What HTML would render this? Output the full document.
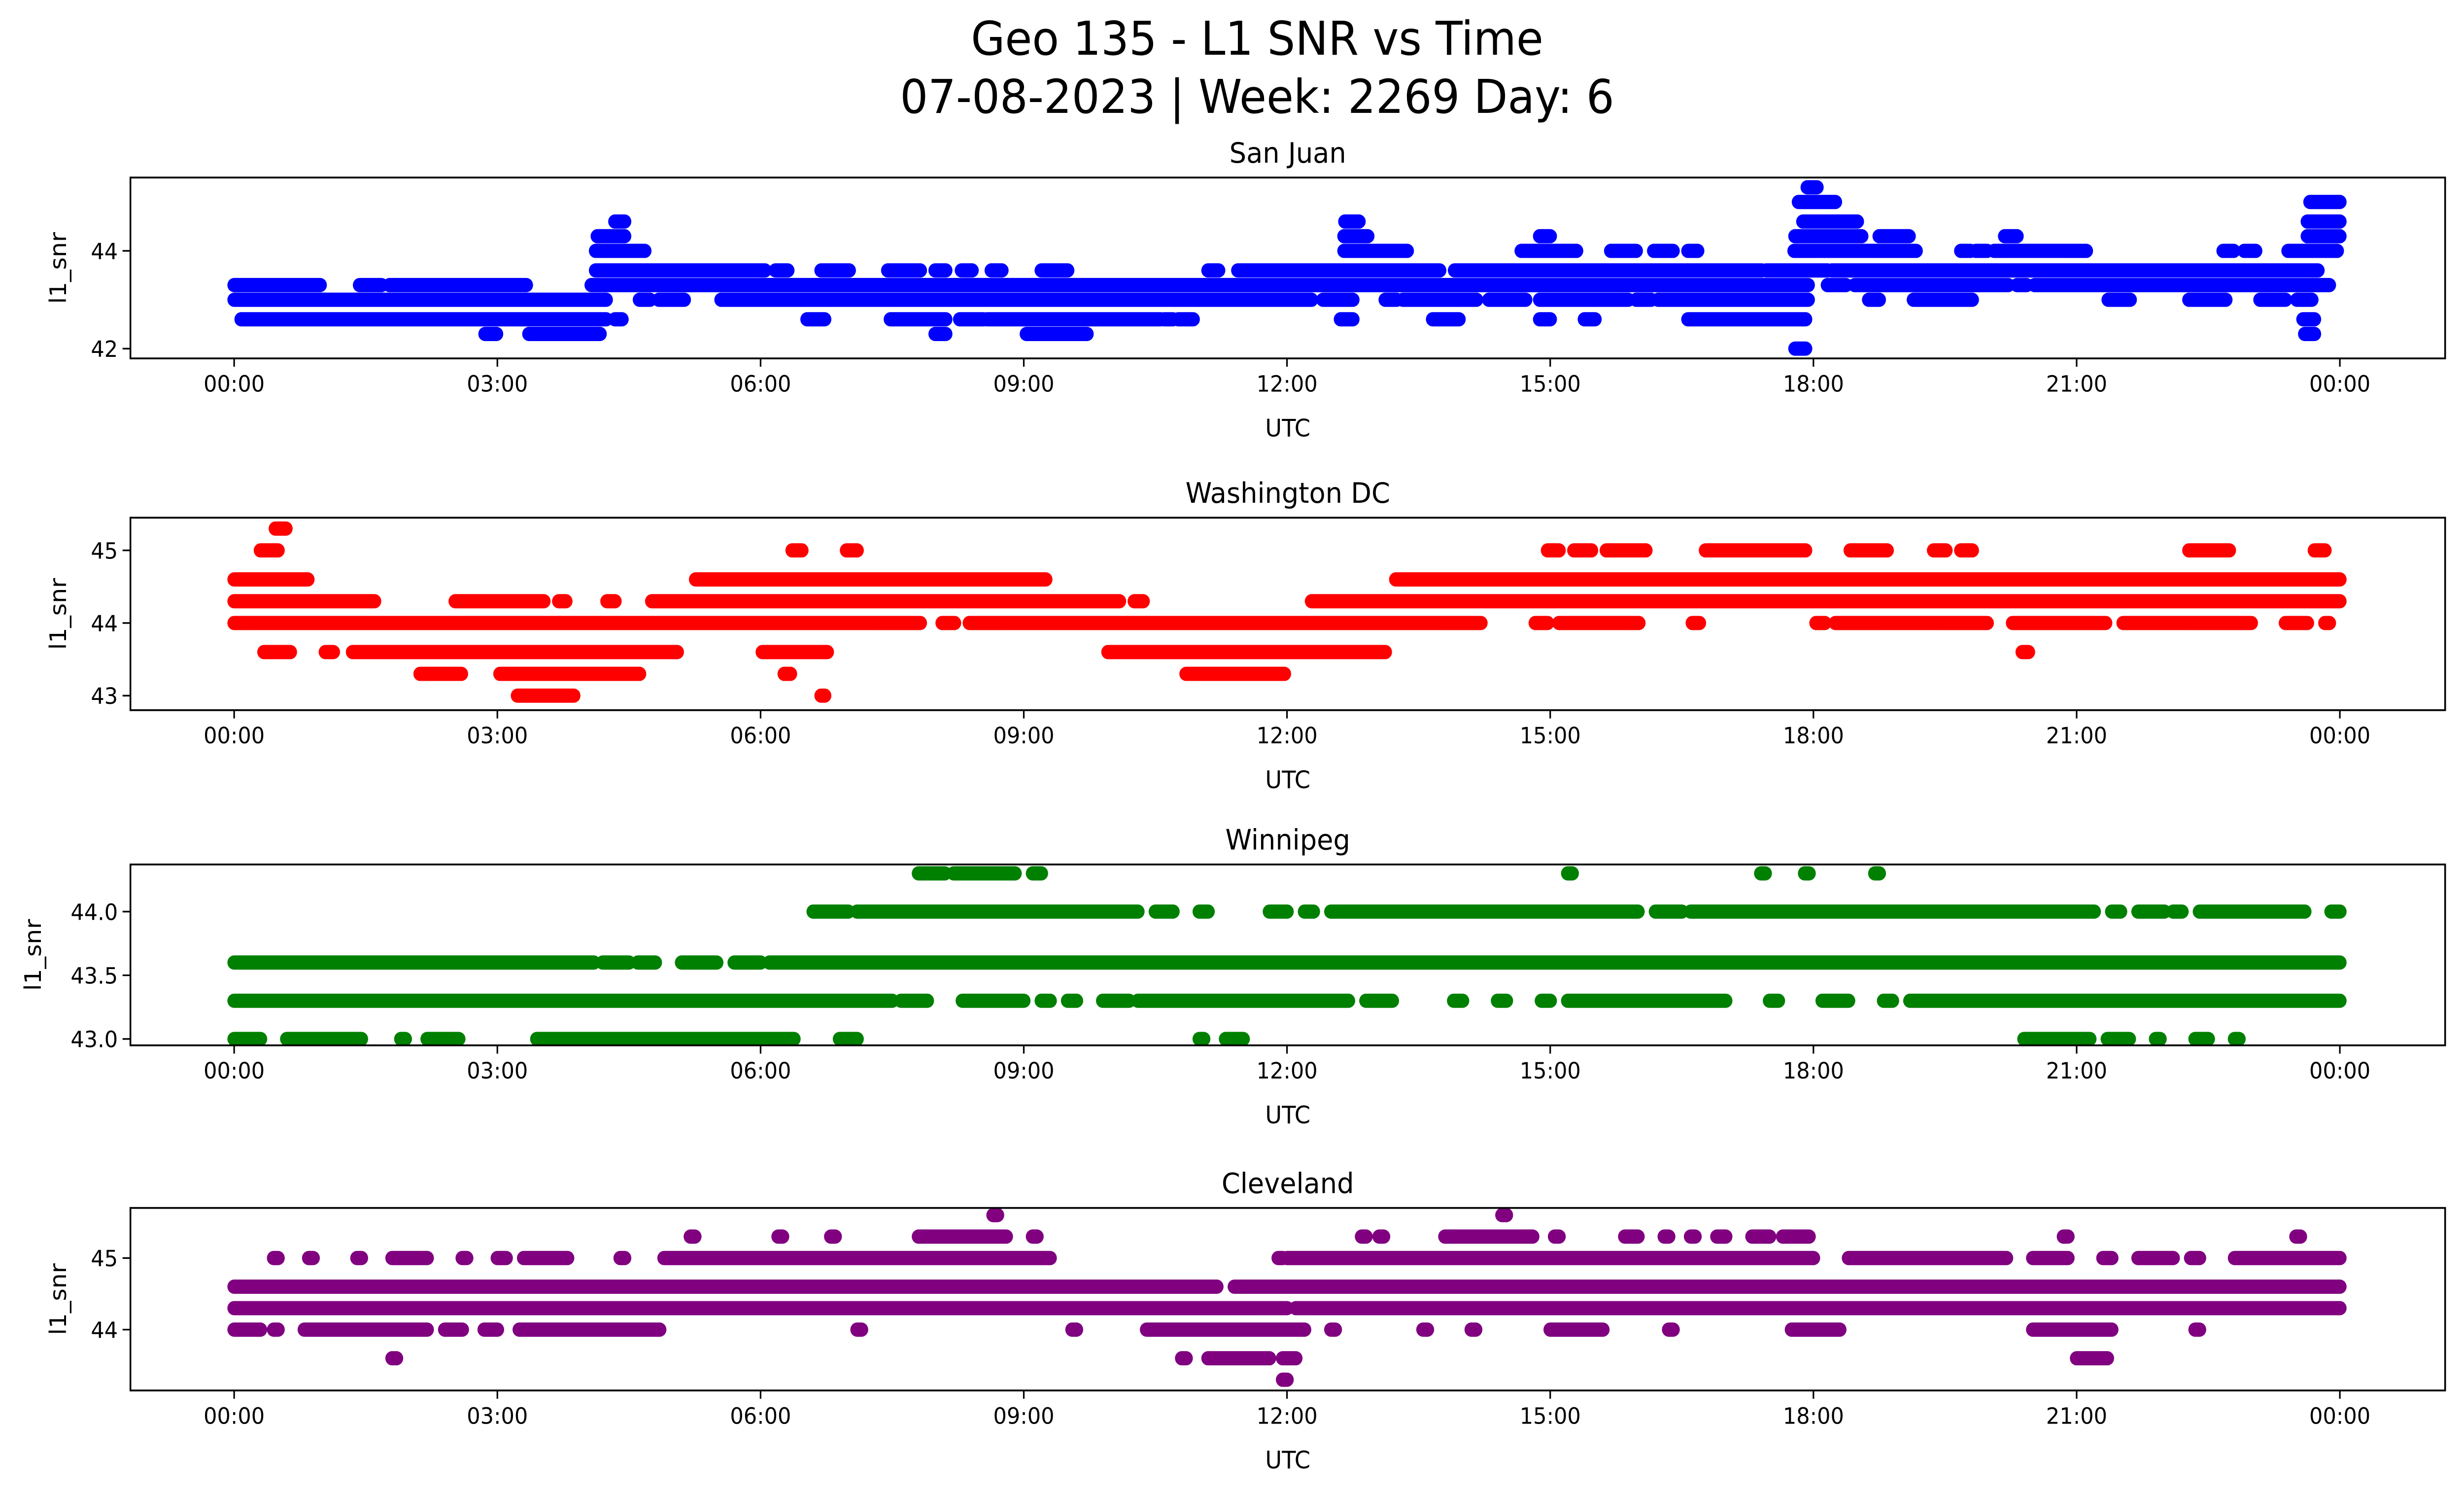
<!DOCTYPE html>
<html><head><meta charset="utf-8"><style>
html,body{margin:0;padding:0;background:#fff;width:100%;height:100%;overflow:hidden}
svg{display:block;position:absolute;left:0;top:0}
text{font-family:"DejaVu Sans","Liberation Sans",sans-serif;fill:#000}
</style></head><body>
<svg id="fig" width="100%" height="100%" viewBox="0 0 1568 901" preserveAspectRatio="none" xmlns="http://www.w3.org/2000/svg">
<rect width="1568" height="901" fill="#fff"/>
<text x="800" y="33" font-size="28" text-anchor="middle">Geo 135 - L1 SNR vs Time</text>
<text x="800" y="68" font-size="28" text-anchor="middle">07-08-2023 | Week: 2269 Day: 6</text>
</svg>
<script>
// Each run: [startHour, endHour, snr]
const sanJuanRuns = [
[0,0.98,43.3],[1.43,1.68,43.3],[1.77,3.33,43.3],[4.07,17.94,43.3],[18.16,18.37,43.3],[18.47,20.22,43.3],[20.32,20.43,43.3],[20.52,23.88,43.3],
[0,4.24,43.0],[4.62,4.74,43.0],[4.84,5.13,43.0],[5.55,12.28,43.0],[12.41,12.75,43.0],[13.12,13.25,43.0],[13.32,14.16,43.0],[14.30,14.72,43.0],[14.88,15.89,43.0],[15.98,16.15,43.0],[16.23,17.94,43.0],[18.63,18.75,43.0],[19.14,19.81,43.0],[21.36,21.61,43.0],[22.28,22.70,43.0],[23.09,23.38,43.0],[23.51,23.68,43.0],
[4.12,6.05,43.6],[6.17,6.31,43.6],[6.69,7.01,43.6],[7.45,7.82,43.6],[7.99,8.11,43.6],[8.29,8.41,43.6],[8.63,8.75,43.6],[9.20,9.50,43.6],[11.10,11.22,43.6],[11.44,13.74,43.6],[13.91,17.41,43.6],[17.46,18.16,43.6],[18.21,23.75,43.6],
[0.08,4.24,42.6],[4.34,4.42,42.6],[6.53,6.73,42.6],[7.48,8.11,42.6],[8.27,8.54,42.6],[8.58,10.56,42.6],[10.60,10.70,42.6],[10.76,10.93,42.6],[12.61,12.75,42.6],[13.66,13.96,42.6],[14.88,15.00,42.6],[15.39,15.51,42.6],[16.57,17.91,42.6],[23.58,23.71,42.6],
[2.86,2.99,42.3],[3.36,4.17,42.3],[7.99,8.11,42.3],[9.03,9.72,42.3],[23.60,23.71,42.3],
[17.79,17.91,42.0],
[4.12,4.68,44.0],[12.65,13.37,44.0],[14.67,15.30,44.0],[15.69,15.98,44.0],[16.18,16.40,44.0],[16.57,16.68,44.0],[17.78,19.17,44.0],[19.68,19.79,44.0],[19.85,19.98,44.0],[20.06,21.11,44.0],[22.67,22.79,44.0],[22.91,23.04,44.0],[23.41,23.97,44.0],
[4.14,4.45,44.3],[12.65,12.92,44.3],[14.88,15.00,44.3],[17.79,18.55,44.3],[18.75,19.09,44.3],[20.18,20.32,44.3],[23.63,24.0,44.3],
[4.34,4.45,44.6],[12.66,12.82,44.6],[17.88,18.50,44.6],[23.63,24.0,44.6],
[17.83,18.25,45.0],[23.66,24.0,45.0],
[17.93,18.04,45.3]
];
const washingtonRuns = [
[0.47,0.59,45.3],
[0.30,0.50,45.0],[6.36,6.47,45.0],[6.98,7.10,45.0],[14.97,15.10,45.0],[15.27,15.47,45.0],[15.64,16.09,45.0],[16.77,17.91,45.0],[18.42,18.84,45.0],[19.37,19.51,45.0],[19.68,19.81,45.0],[22.28,22.74,45.0],[23.71,23.83,45.0],
[0,0.84,44.6],[5.26,9.25,44.6],[13.24,24.0,44.6],
[0,1.60,44.3],[2.52,3.53,44.3],[3.70,3.78,44.3],[4.25,4.34,44.3],[4.76,10.09,44.3],[10.26,10.36,44.3],[12.28,24.0,44.3],
[0,7.82,44.0],[8.07,8.21,44.0],[8.38,14.21,44.0],[14.83,14.97,44.0],[15.10,16.01,44.0],[16.62,16.70,44.0],[18.03,18.13,44.0],[18.25,19.98,44.0],[20.27,21.33,44.0],[21.53,22.99,44.0],[23.38,23.63,44.0],[23.83,23.88,44.0],
[0.34,0.64,43.6],[1.04,1.13,43.6],[1.35,5.05,43.6],[6.02,6.76,43.6],[9.96,13.12,43.6],[20.38,20.45,43.6],
[2.12,2.59,43.3],[3.03,4.62,43.3],[6.27,6.34,43.3],[10.85,11.97,43.3],
[3.23,3.87,43.0],[6.69,6.73,43.0]
];
const winnipegRuns = [
[0,4.1,43.6],[4.2,4.5,43.6],[4.6,4.8,43.6],[5.1,5.5,43.6],[5.7,6.0,43.6],[6.1,24,43.6],
[0,7.5,43.3],[7.6,7.9,43.3],[8.3,9.0,43.3],[9.2,9.3,43.3],[9.5,9.6,43.3],[9.9,10.2,43.3],[10.3,12.7,43.3],[12.9,13.2,43.3],[13.9,14.0,43.3],[14.4,14.5,43.3],[14.9,15.0,43.3],[15.2,17.0,43.3],[17.5,17.6,43.3],[18.1,18.4,43.3],[18.8,18.9,43.3],[19.1,24,43.3],
[6.6,7.0,44.0],[7.1,10.3,44.0],[10.5,10.7,44.0],[11.0,11.1,44.0],[11.8,12.0,44.0],[12.2,12.3,44.0],[12.5,16.0,44.0],[16.2,16.5,44.0],[16.6,21.2,44.0],[21.4,21.5,44.0],[21.7,22.0,44.0],[22.1,22.2,44.0],[22.4,23.6,44.0],[23.9,24.0,44.0],
[7.8,8.1,44.3],[8.2,8.9,44.3],[9.1,9.2,44.3],[15.2,15.25,44.3],[17.4,17.45,44.3],[17.9,17.95,44.3],[18.7,18.75,44.3],
[0,0.3,43.0],[0.6,1.45,43.0],[1.9,1.95,43.0],[2.2,2.56,43.0],[3.45,6.38,43.0],[6.9,7.1,43.0],[11.0,11.05,43.0],[11.3,11.5,43.0],[20.4,21.15,43.0],[21.35,21.6,43.0],[21.9,21.95,43.0],[22.35,22.5,43.0],[22.8,22.85,43.0]
];
const clevelandRuns = [
[0,11.2,44.6],[11.4,24,44.6],
[0,12.0,44.3],[12.1,24,44.3],
[0,0.3,44.0],[0.45,0.5,44.0],[0.8,2.2,44.0],[2.4,2.6,44.0],[2.85,3.0,44.0],[3.25,4.85,44.0],[7.1,7.15,44.0],[9.55,9.6,44.0],[10.4,12.2,44.0],[12.5,12.55,44.0],[13.55,13.6,44.0],[14.1,14.15,44.0],[15.0,15.6,44.0],[16.35,16.4,44.0],[17.75,18.3,44.0],[20.5,21.4,44.0],[22.35,22.4,44.0],
[1.8,1.85,43.6],[10.8,10.85,43.6],[11.1,11.8,43.6],[11.95,12.1,43.6],[21.0,21.35,43.6],
[11.95,12.0,43.3],
[0.45,0.5,45.0],[0.85,0.9,45.0],[1.4,1.45,45.0],[1.8,2.2,45.0],[2.6,2.65,45.0],[3.0,3.1,45.0],[3.3,3.8,45.0],[4.4,4.45,45.0],[4.9,9.3,45.0],[11.9,11.95,45.0],[12.0,18.0,45.0],[18.4,20.2,45.0],[20.5,20.9,45.0],[21.3,21.4,45.0],[21.7,22.1,45.0],[22.3,22.4,45.0],[22.8,24,45.0],
[5.2,5.25,45.3],[6.2,6.25,45.3],[6.8,6.85,45.3],[7.8,8.8,45.3],[9.1,9.15,45.3],[12.85,12.9,45.3],[13.05,13.1,45.3],[13.8,14.8,45.3],[15.05,15.1,45.3],[15.85,16.0,45.3],[16.3,16.35,45.3],[16.6,16.65,45.3],[16.9,17.0,45.3],[17.3,17.5,45.3],[17.65,17.95,45.3],[20.85,20.9,45.3],[23.5,23.55,45.3],
[8.65,8.7,45.6],[14.45,14.5,45.6]
];
const xTickHours = [0,3,6,9,12,15,18,21,24];
const xTickLabels = ["00:00","03:00","06:00","09:00","12:00","15:00","18:00","21:00","00:00"];
const sjTicks = [42,44], sjTickLabels = ["42","44"];
const dcTicks = [43,44,45], dcTickLabels = ["43","44","45"];
const wpTicks = [43.0,43.5,44.0], wpTickLabels = ["43.0","43.5","44.0"];
const clTicks = [44,45], clTickLabels = ["44","45"];
const sjLimits = [41.8,45.5], dcLimits = [42.8,45.45], wpLimits = [42.95,44.37], clLimits = [43.15,45.7];

const NS="http://www.w3.org/2000/svg";
const fig=document.getElementById('fig');
function mk(tag,attrs,parent){const e=document.createElementNS(NS,tag);for(const k in attrs)e.setAttribute(k,attrs[k]);(parent||fig).appendChild(e);return e;}
const X0=83,X1=1556;
function xs(h){return 149+h*(1340/24);}
function panel(key,title,color,runs,ticks,tickLabels,top,bot,lim,ylx){
  const ys=v=>bot-(v-lim[0])/(lim[1]-lim[0])*(bot-top);
  const g=mk('g',{});
  
  
  const cp=mk('clipPath',{id:'c'+key},g);mk('rect',{x:X0,y:top,width:X1-X0,height:bot-top},cp);
  const t=mk('text',{x:(X0+X1)/2,y:top-9,'font-size':17,'text-anchor':'middle'},g);t.textContent=title;
  
  
  const pts=mk('g',{'clip-path':'url(#c'+key+')'},g);
  
  
  runs.forEach(r=>{
    const y=ys(r[2]);
    const l=mk('line',{x1:xs(r[0]),x2:xs(r[1]),y1:y,y2:y,stroke:color,'stroke-width':8.6,'stroke-linecap':'round'},pts);
    
    
  });
  const fr=mk('rect',{x:X0,y:top,width:X1-X0,height:bot-top,fill:'none',stroke:'#000','stroke-width':1.1},g);
  
  
  xTickHours.forEach((h,i)=>{
    const x=xs(h);
    mk('line',{x1:x,x2:x,y1:bot,y2:bot+5,stroke:'#000','stroke-width':1},g);
    const tl=mk('text',{x:x,y:bot+20,'font-size':13.5,'text-anchor':'middle'},g);tl.textContent=xTickLabels[i];
    
    
  });
  ticks.forEach((v,i)=>{
    const y=ys(v);
    mk('line',{x1:X0-5,x2:X0,y1:y,y2:y,stroke:'#000','stroke-width':1},g);
    const tl=mk('text',{x:X0-8,y:y+5,'font-size':13.5,'text-anchor':'end'},g);tl.textContent=tickLabels[i];
    
    
  });
  const xl=mk('text',{x:(X0+X1)/2,y:bot+47,'font-size':14.5,'text-anchor':'middle'},g);xl.textContent='UTC';
  
  
  const yc=(top+bot)/2;
  const yl=mk('text',{x:ylx,y:yc,'font-size':14.5,'text-anchor':'middle',transform:'rotate(-90 '+ylx+' '+yc+')'},g);yl.textContent='l1_snr';
  
  
}
panel('san-juan','San Juan','#0000ff',sanJuanRuns,sjTicks,sjTickLabels,107,216,sjLimits,42);
panel('washington-dc','Washington DC','#ff0000',washingtonRuns,dcTicks,dcTickLabels,312,428,dcLimits,42);
panel('winnipeg','Winnipeg','#008000',winnipegRuns,wpTicks,wpTickLabels,521,630,wpLimits,26);
panel('cleveland','Cleveland','#800080',clevelandRuns,clTicks,clTickLabels,728,838,clLimits,42);
</script>
</body></html>
